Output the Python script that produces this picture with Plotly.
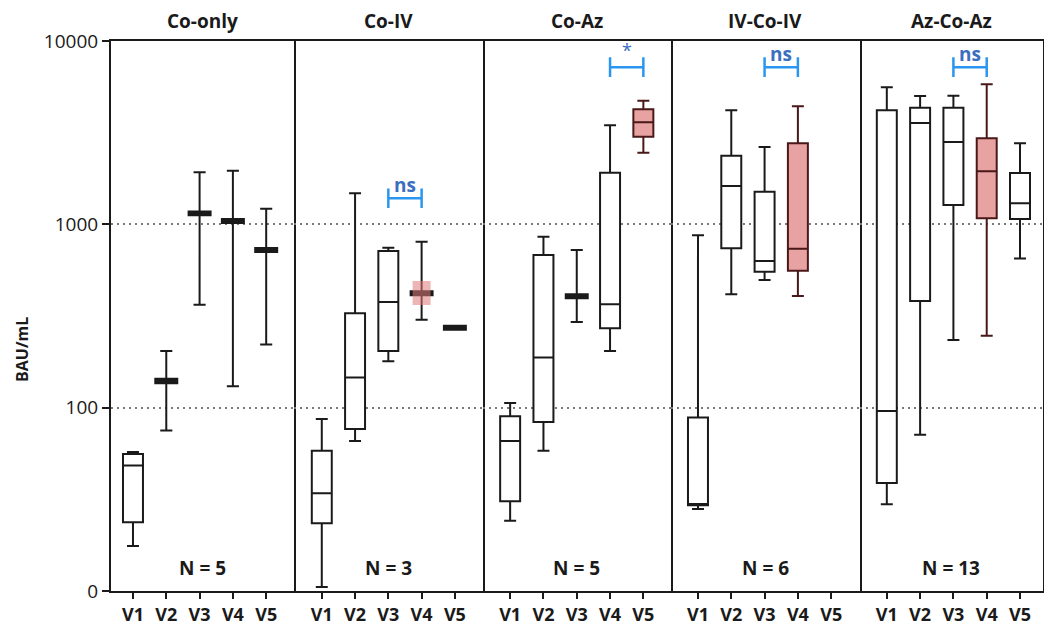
import math
import plotly.graph_objects as go

# ---------------- data ----------------
groups = ["Co-only", "Co-IV", "Co-Az", "IV-Co-IV", "Az-Co-Az"]
n_labels = ["N = 5", "N = 3", "N = 5", "N = 6", "N = 13"]
visits = ["V1", "V2", "V3", "V4", "V5"]

# whisker low, q1, median, q3, whisker high  (None = no data)
co_only_min = [17.6, 75, 364, 131, 221]
co_only_q1 = [23.7, 136, 1120, 1017, 706]
co_only_med = [48.4, 140, 1148, 1043, 724]
co_only_q3 = [55.8, 144, 1175, 1070, 743]
co_only_max = [57.3, 204, 1922, 1960, 1217]

co_iv_min = [10.5, 65.7, 179, 302, 266]
co_iv_q1 = [23.4, 76.4, 204, 410, 266]
co_iv_med = [34.1, 146, 377, 421, 273]
co_iv_q3 = [58.2, 327, 715, 432, 280]
co_iv_max = [86.7, 1476, 745, 804, 280]

co_az_min = [24.2, 58.2, 293, 204, 2458]
co_az_q1 = [30.9, 83.4, 395, 271, 3006]
co_az_med = [65.7, 188, 405, 367, 3600]
co_az_q3 = [89.7, 680, 415, 1913, 4240]
co_az_max = [106, 856, 724, 3467, 4725]

iv_co_iv_min = [28.0, 415, 497, 406, None]
iv_co_iv_q1 = [29.4, 740, 551, 558, None]
iv_co_iv_med = [29.8, 1618, 631, 736, None]
iv_co_iv_q3 = [88.5, 2368, 1506, 2767, None]
iv_co_iv_max = [871, 4188, 2641, 4403, None]

az_co_az_min = [29.7, 71.2, 234, 247, 652]
az_co_az_q1 = [38.8, 382, 1275, 1078, 1069]
az_co_az_med = [95.8, 3570, 2812, 1947, 1302]
az_co_az_q3 = [4188, 4325, 4325, 2946, 1905]
az_co_az_max = [5590, 5012, 5030, 5802, 2767]

stats_min = [co_only_min, co_iv_min, co_az_min, iv_co_iv_min, az_co_az_min]
stats_q1 = [co_only_q1, co_iv_q1, co_az_q1, iv_co_iv_q1, az_co_az_q1]
stats_med = [co_only_med, co_iv_med, co_az_med, iv_co_iv_med, az_co_az_med]
stats_q3 = [co_only_q3, co_iv_q3, co_az_q3, iv_co_iv_q3, az_co_az_q3]
stats_max = [co_only_max, co_iv_max, co_az_max, iv_co_iv_max, az_co_az_max]

# highlighted (pink) boxes: group index, visit number
highlight_group = [2, 3, 4]
highlight_visit = [5, 4, 4]
# pink IQR square drawn over Co-IV V4
overlay_group = [1]
overlay_visit = [4]
overlay_q1 = [363]
overlay_med = [421]
overlay_q3 = [491]

# significance brackets
sig_group = [1, 2, 3, 4]
sig_from = [3, 4, 3, 3]
sig_to = [4, 5, 4, 4]
sig_y = [1387, 7200, 7200, 7200]
sig_text = ["ns", "*", "ns", "ns"]

y_tickvals = [10, 100, 1000, 10000]
y_ticktext = ["0", "100", "1000", "10000"]

# ---------------- layout geometry ----------------
# the page body has an 8px margin: work in window pixels, then shift
OFF = 8
W, H = 1052 - OFF, 621 - OFF
L, R, T, B = 111 - OFF, 1043 - OFF, 41 - OFF, 591 - OFF
edges = [e - OFF for e in [111, 293.5, 482.5, 671, 859.5, 1043]]
xranges = [(0.34, 5.82), (0.15, 5.83), (0.17, 5.83), (0.19, 5.85), (0.18, 5.69)]
PW = R - L
PH = B - T

FONT = "Open Sans"
INK = "#1a1a1a"
PINK = "#e8a2a2"
PINK_LINE = "#4a1818"
BLUE_BR = "#2a96f0"
BLUE_TX = "#3a6ec0"

fig = go.Figure()


def ax(i, kind):
    return kind if i == 0 else f"{kind}{i + 1}"


for gi, g in enumerate(groups):
    xa, ya = ax(gi, "x"), ax(gi, "y")
    for vi in range(5):
        if stats_med[gi][vi] is None:
            continue
        q1, q3 = stats_q1[gi][vi], stats_q3[gi][vi]
        is_hl = any(hg == gi and hv == vi + 1 for hg, hv in zip(highlight_group, highlight_visit))
        solid = q3 / q1 < 1.12
        if is_hl:
            fill, lc = PINK, PINK_LINE
        elif solid:
            fill, lc = INK, INK
        else:
            fill, lc = "white", INK
        fig.add_trace(go.Box(
            x=[vi + 1], q1=[q1], median=[stats_med[gi][vi]], q3=[q3],
            lowerfence=[stats_min[gi][vi]], upperfence=[stats_max[gi][vi]],
            width=0.6 if not solid else 0.66, whiskerwidth=0.6 if not solid else 0.55,
            fillcolor=fill, line=dict(color=lc, width=2),
            boxpoints=False, showlegend=False, hoverinfo="skip",
            xaxis=xa, yaxis=ya,
        ))

for og, ov, oq1, om, oq3 in zip(overlay_group, overlay_visit, overlay_q1, overlay_med, overlay_q3):
    fig.add_trace(go.Box(
        x=[ov], q1=[oq1], median=[om], q3=[oq3], lowerfence=[oq1], upperfence=[oq3],
        width=0.54, whiskerwidth=0.0,
        fillcolor="rgba(222,120,120,0.55)", line=dict(color="rgba(222,120,120,0.0)", width=0),
        boxpoints=False, showlegend=False, hoverinfo="skip",
        xaxis=ax(og, "x"), yaxis=ax(og, "y"),
    ))

annotations = []
for sg, sf, st, sy, stx in zip(sig_group, sig_from, sig_to, sig_y, sig_text):
    fig.add_trace(go.Scatter(
        x=[sf, st], y=[sy, sy], mode="lines+markers",
        line=dict(color=BLUE_BR, width=2.5),
        marker=dict(symbol="line-ns-open", size=14, line=dict(color=BLUE_BR, width=2.5)),
        showlegend=False, hoverinfo="skip",
        xaxis=ax(sg, "x"), yaxis=ax(sg, "y"),
    ))
    annotations.append(dict(
        x=(sf + st) / 2, y=math.log10(sy), xref=ax(sg, "x"), yref=ax(sg, "y"),
        text=f"<b>{stx}</b>" if stx != "*" else stx,
        showarrow=False, xanchor="center", yanchor="middle",
        yshift=13 if stx != "*" else 17,
        font=dict(family=FONT, size=19 if stx != "*" else 18, color=BLUE_TX),
    ))

layout = dict(
    width=W, height=H,
    margin=dict(l=L, r=W - R, t=T, b=H - B, pad=0, autoexpand=False),
    paper_bgcolor="white", plot_bgcolor="white",
    boxmode="overlay", showlegend=False,
    font=dict(family=FONT, color=INK),
)

for gi in range(5):
    d0 = (edges[gi] - L) / PW
    d1 = (edges[gi + 1] - L) / PW
    xk = "xaxis" if gi == 0 else f"xaxis{gi + 1}"
    yk = "yaxis" if gi == 0 else f"yaxis{gi + 1}"
    layout[xk] = dict(
        domain=[d0, d1], range=list(xranges[gi]), anchor=ax(gi, "y"),
        tickmode="array", tickvals=[1, 2, 3, 4, 5], ticktext=[f"<b>{v}</b>" for v in visits],
        ticks="outside", ticklen=6, tickwidth=2, tickcolor=INK,
        tickfont=dict(family=FONT, size=18, color=INK),
        showline=True, linecolor=INK, linewidth=2, mirror=True,
        showgrid=False, zeroline=False, fixedrange=True, automargin=False,
    )
    layout[yk] = dict(
        type="log", range=[1, 4], anchor=ax(gi, "x"), domain=[0, 1],
        tickmode="array", tickvals=y_tickvals, ticktext=y_ticktext,
        ticks="outside" if gi == 0 else "", ticklen=7, tickwidth=2, tickcolor=INK,
        showticklabels=(gi == 0),
        tickfont=dict(family=FONT, size=19, color=INK),
        showline=True, linecolor=INK, linewidth=2,
        mirror=(gi == 0), side="left" if gi == 0 else "right",
        showgrid=True, gridcolor="#7a7a7a", gridwidth=1.5, griddash="2px,4px",
        zeroline=False, fixedrange=True, automargin=False,
    )
    if gi > 0:
        layout[yk]["matches"] = "y"
    cx = ((edges[gi] + edges[gi + 1]) / 2 - L) / PW
    annotations.append(dict(
        x=cx, y=1, xref="paper", yref="paper", text=f"<b>{groups[gi]}</b>",
        showarrow=False, xanchor="center", yanchor="middle", yshift=20,
        font=dict(family=FONT, size=19, color=INK),
    ))
    annotations.append(dict(
        x=cx, y=(591 - 568) / PH, xref="paper", yref="paper", text=f"<b>{n_labels[gi]}</b>",
        showarrow=False, xanchor="center", yanchor="middle",
        font=dict(family=FONT, size=19, color=INK),
    ))

annotations.append(dict(
    x=(22 - 111) / PW, y=(591 - 350) / PH, xref="paper", yref="paper",
    text="<b>BAU/mL</b>", textangle=-90, showarrow=False,
    xanchor="center", yanchor="middle",
    font=dict(family=FONT, size=16, color=INK),
))
layout["annotations"] = annotations

fig.update_layout(**layout)
fig.write_html("out.html")
